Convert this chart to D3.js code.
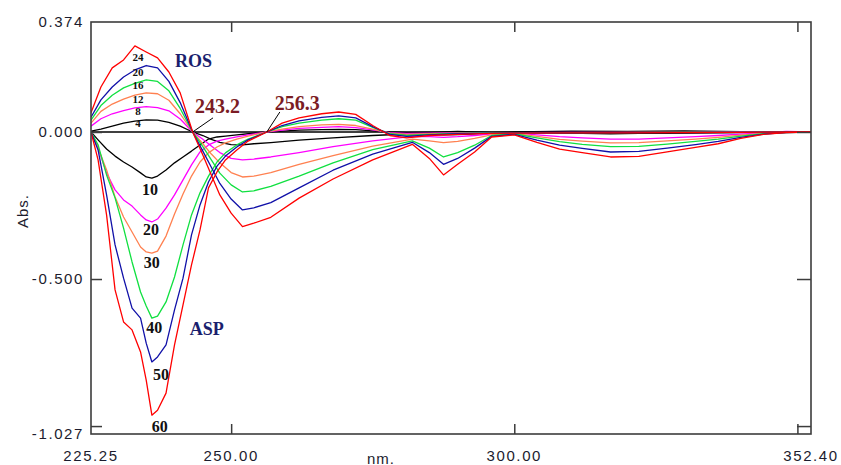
<!DOCTYPE html>
<html>
<head>
<meta charset="utf-8">
<script src="https://cdn.jsdelivr.net/npm/d3@7"></script>
<style>
        body { margin: 0; background: #fff; }
</style>
</head>
<body>
<svg id="chart" width="841" height="465" font-family="'Liberation Sans', Arial, sans-serif"></svg>
<script>
// ratio-derivative spectra, ROS (4..24) and ASP (10..60)

// ROS family, sampled wavelengths (nm)
const wlROS = [225.25, 227, 229, 231, 233, 235, 237, 239, 241, 243.2,
               245, 246.5, 248, 250, 252, 254, 257, 262, 268, 275,
               282, 285, 287.5, 290, 293, 296, 300, 304, 308, 312,
               317, 322, 327, 332, 336, 340, 344, 348, 352.4];

const ros4  = [0.003, 0.01, 0.02, 0.03, 0.037, 0.041, 0.04, 0.033, 0.02, 0,
               -0.012, -0.025, -0.035, -0.043, -0.044, -0.04, -0.036, -0.028, -0.02, -0.012,
               -0.006, -0.008, -0.01, -0.009, -0.006, -0.003, -0.002, -0.004, -0.005, -0.005,
               -0.006, -0.005, -0.005, -0.004, -0.003, -0.002, -0.001, 0, 0];
const ros8  = [0.02, 0.045, 0.062, 0.073, 0.082, 0.086, 0.083, 0.072, 0.044, 0,
               -0.025, -0.048, -0.07, -0.09, -0.095, -0.092, -0.085, -0.07, -0.05, -0.03,
               -0.015, -0.016, -0.018, -0.016, -0.012, -0.006, -0.003, -0.01, -0.016, -0.02,
               -0.024, -0.024, -0.02, -0.016, -0.012, -0.007, -0.003, 0.002, 0];
const ros12 = [0.03, 0.07, 0.095, 0.112, 0.125, 0.133, 0.13, 0.108, 0.062, 0,
               -0.04, -0.075, -0.105, -0.138, -0.153, -0.15, -0.138, -0.11, -0.08, -0.048,
               -0.024, -0.03, -0.036, -0.032, -0.022, -0.01, -0.005, -0.015, -0.025, -0.031,
               -0.037, -0.036, -0.03, -0.024, -0.018, -0.011, -0.005, -0.001, 0];
const ros16 = [0.04, 0.09, 0.125, 0.15, 0.165, 0.177, 0.172, 0.14, 0.08, 0,
               -0.05, -0.095, -0.14, -0.18, -0.204, -0.2, -0.185, -0.15, -0.105, -0.06,
               -0.03, -0.055, -0.085, -0.07, -0.045, -0.012, -0.006, -0.02, -0.033, -0.042,
               -0.05, -0.049, -0.041, -0.032, -0.024, -0.014, -0.006, -0.002, 0];
const ros20 = [0.05, 0.109, 0.153, 0.187, 0.211, 0.226, 0.218, 0.172, 0.1, 0,
               -0.065, -0.12, -0.175, -0.228, -0.265, -0.258, -0.24, -0.19, -0.13, -0.075,
               -0.035, -0.07, -0.11, -0.09, -0.055, -0.015, -0.008, -0.028, -0.045, -0.056,
               -0.068, -0.066, -0.055, -0.043, -0.032, -0.018, -0.007, -0.002, 0];
const ros24 = [0.065, 0.153, 0.218, 0.245, 0.293, 0.272, 0.252, 0.204, 0.133, 0,
               -0.078, -0.146, -0.214, -0.276, -0.322, -0.31, -0.29, -0.225, -0.16, -0.095,
               -0.042, -0.09, -0.146, -0.11, -0.068, -0.017, -0.01, -0.035, -0.058, -0.07,
               -0.085, -0.083, -0.068, -0.052, -0.04, -0.022, -0.008, -0.002, 0];

// ASP family, sampled wavelengths (nm)
const wlASP = [225.25, 226.5, 228, 229.5, 231, 232.5, 234, 235, 236, 237,
               238.5, 240, 241.5, 243, 244.5, 246, 247.5, 249, 251, 253,
               256.3, 259, 262, 266, 269, 272, 275, 278, 281, 285,
               290, 296, 300, 310, 320, 330, 340, 352.4];

const asp10 = [0, -0.027, -0.058, -0.082, -0.102, -0.119, -0.139, -0.153, -0.157, -0.15,
               -0.129, -0.105, -0.085, -0.065, -0.044, -0.024, -0.017, -0.014, -0.01, -0.006,
               0, 0.003, 0.006, 0.008, 0.009, 0.008, 0.004, 0, -0.002, -0.001,
               0.002, -0.001, 0, 0.003, 0.002, 0.004, 0.001, 0];
const asp20 = [0, -0.054, -0.14, -0.197, -0.231, -0.252, -0.282, -0.299, -0.306, -0.296,
               -0.259, -0.214, -0.163, -0.112, -0.068, -0.044, -0.031, -0.024, -0.017, -0.01,
               0, 0.006, 0.012, 0.016, 0.018, 0.015, 0.007, -0.002, -0.005, -0.004,
               -0.003, -0.002, -0.002, -0.001, -0.001, -0.001, 0, 0];
const asp30 = [0, -0.054, -0.129, -0.221, -0.289, -0.34, -0.391, -0.408, -0.412, -0.405,
               -0.354, -0.279, -0.211, -0.15, -0.102, -0.071, -0.051, -0.037, -0.024, -0.014,
               0, 0.01, 0.018, 0.024, 0.026, 0.022, 0.01, -0.004, -0.008, -0.006,
               -0.004, -0.003, -0.002, -0.002, -0.001, -0.001, -0.001, 0];
const asp40 = [0, -0.044, -0.146, -0.224, -0.327, -0.442, -0.544, -0.592, -0.633, -0.626,
               -0.578, -0.493, -0.384, -0.282, -0.207, -0.15, -0.102, -0.071, -0.044, -0.024,
               0, 0.018, 0.03, 0.04, 0.045, 0.04, 0.016, -0.006, -0.012, -0.008,
               -0.005, -0.003, -0.002, -0.002, -0.002, -0.001, -0.001, 0];
const asp50 = [0, -0.061, -0.214, -0.384, -0.497, -0.599, -0.633, -0.718, -0.782, -0.765,
               -0.724, -0.605, -0.497, -0.35, -0.248, -0.17, -0.116, -0.082, -0.051, -0.027,
               0, 0.022, 0.038, 0.05, 0.055, 0.048, 0.018, -0.008, -0.015, -0.01,
               -0.006, -0.004, -0.003, -0.003, -0.002, -0.002, -0.001, 0];
const asp60 = [0, -0.095, -0.282, -0.537, -0.646, -0.673, -0.748, -0.844, -0.963, -0.946,
               -0.888, -0.724, -0.588, -0.452, -0.333, -0.19, -0.136, -0.095, -0.061, -0.031,
               0, 0.03, 0.048, 0.062, 0.068, 0.06, 0.022, -0.012, -0.02, -0.012,
               -0.008, -0.005, -0.004, -0.003, -0.003, -0.002, -0.001, 0];

// axis ticks and labels
const xTicks = [250, 300, 350];
const yTicks = [0, -0.5, -1.0];
const xLabels = [225.25, 250, 300, 352.40];
const yLabels = [0.374, 0, -0.5, -1.027];

// concentration labels
const rosNames = ["4", "8", "12", "16", "20", "24"];
const aspNames = ["10", "20", "30", "40", "50", "60"];

const palette = ["#000000", "#ff00ff", "#ff8050", "#10e040", "#1010a8", "#ff0000"];

const svg = d3.select("#chart");
const plotL = 91, plotR = 811, plotT = 22, plotB = 434;

const x = d3.scaleLinear().domain([225.25, 352.40]).range([plotL, plotR]);
const y = d3.scaleLinear().domain([-1.027, 0.374]).range([plotB, plotT]);

svg.append("defs").append("clipPath")
        .attr("id", "plotclip")
        .append("rect")
        .attr("x", plotL).attr("y", plotT)
        .attr("width", plotR - plotL).attr("height", plotB - plotT);

const plot = svg.append("g").attr("clip-path", "url(#plotclip)");

// zero line
plot.append("line")
        .attr("x1", x(225.25)).attr("x2", x(352.40))
        .attr("y1", y(0)).attr("y2", y(0))
        .attr("stroke", "#000")
        .attr("stroke-width", 1.3);

const line = d3.line()
        .x(d => x(d[0]))
        .y(d => y(d[1]));

const rosSeries = [ros4, ros8, ros12, ros16, ros20, ros24];
const aspSeries = [asp10, asp20, asp30, asp40, asp50, asp60];

rosSeries.forEach((vals, i) => {
        const asp = aspSeries[i];
        plot.append("path")
                .datum(wlASP.map((w, k) => [w, asp[k]]))
                .attr("d", line)
                .attr("fill", "none")
                .attr("stroke", palette[i])
                .attr("stroke-width", 1.3)
                .attr("stroke-linejoin", "round");
        plot.append("path")
                .datum(wlROS.map((w, k) => [w, vals[k]]))
                .attr("d", line)
                .attr("fill", "none")
                .attr("stroke", palette[i])
                .attr("stroke-width", 1.3)
                .attr("stroke-linejoin", "round");
});

// frame
svg.append("rect")
        .attr("x", plotL).attr("y", plotT)
        .attr("width", plotR - plotL).attr("height", plotB - plotT)
        .attr("fill", "none")
        .attr("stroke", "#3c3c3c")
        .attr("stroke-width", 1.6);

// inward tick marks on all four sides
const tickStyle = g => {
        g.select(".domain").remove();
        g.selectAll(".tick line").attr("stroke", "#3c3c3c").attr("stroke-width", 1.5);
};
svg.append("g").attr("transform", `translate(0,${plotB})`)
        .call(d3.axisBottom(x).tickValues(xTicks).tickSize(-10).tickFormat(""))
        .call(tickStyle);
svg.append("g").attr("transform", `translate(0,${plotT})`)
        .call(d3.axisTop(x).tickValues(xTicks).tickSize(-10).tickFormat(""))
        .call(tickStyle);
svg.append("g").attr("transform", `translate(${plotL},0)`)
        .call(d3.axisLeft(y).tickValues(yTicks).tickSize(-11).tickFormat(""))
        .call(tickStyle);
svg.append("g").attr("transform", `translate(${plotR},0)`)
        .call(d3.axisRight(y).tickValues(yTicks).tickSize(-14).tickFormat(""))
        .call(tickStyle);

// tick labels
svg.append("g").selectAll("text")
        .data(yLabels)
        .join("text")
        .attr("x", 84)
        .attr("y", d => y(d))
        .attr("dy", "0.36em")
        .attr("text-anchor", "end")
        .attr("font-size", "15px")
        .attr("letter-spacing", "1.6px")
        .attr("fill", "#1c1c2e")
        .text(d => d.toFixed(3));

svg.append("g").selectAll("text")
        .data(xLabels)
        .join("text")
        .attr("x", d => x(d))
        .attr("y", 461)
        .attr("text-anchor", "middle")
        .attr("font-size", "15px")
        .attr("letter-spacing", "1.6px")
        .attr("fill", "#1c1c2e")
        .text(d => d.toFixed(2));

svg.append("text")
        .attr("x", 381).attr("y", 464)
        .attr("text-anchor", "middle")
        .attr("font-size", "15px")
        .attr("letter-spacing", "1px")
        .attr("fill", "#1c1c2e")
        .text("nm.");

svg.append("text")
        .attr("transform", "translate(28,211) rotate(-90)")
        .attr("text-anchor", "middle")
        .attr("font-size", "15px")
        .attr("letter-spacing", "1px")
        .attr("fill", "#1c1c2e")
        .text("Abs.");

// annotations
const serif = "'Liberation Serif', 'Times New Roman', serif";

svg.append("line")
        .attr("x1", x(246.8)).attr("y1", y(0.048))
        .attr("x2", x(243.2)).attr("y2", y(0))
        .attr("stroke", "#000").attr("stroke-width", 1);
svg.append("line")
        .attr("x1", x(258.6)).attr("y1", y(0.068))
        .attr("x2", x(256.3)).attr("y2", y(0))
        .attr("stroke", "#000").attr("stroke-width", 1);

const notes = [
        {t: "ROS",   w: 240.1, v: 0.221,  size: 18, fill: "#1a1f6e"},
        {t: "ASP",   w: 242.7, v: -0.690, size: 18, fill: "#1a1f6e"},
        {t: "243.2", w: 243.6, v: 0.065,  size: 20, fill: "#7b1c24"},
        {t: "256.3", w: 257.7, v: 0.075,  size: 20, fill: "#7b1c24"}
];
svg.append("g").selectAll("text")
        .data(notes)
        .join("text")
        .attr("x", d => x(d.w))
        .attr("y", d => y(d.v))
        .attr("font-family", serif)
        .attr("font-weight", "bold")
        .attr("font-size", d => d.size + "px")
        .attr("fill", d => d.fill)
        .text(d => d.t);

// concentration labels next to the curves
const rosAt = [[233.55, 0.017], [233.55, 0.057], [233.55, 0.099], [233.55, 0.146], [233.55, 0.19], [233.55, 0.241]];
const aspAt = [[235.67, -0.214], [235.85, -0.35], [236.0, -0.463], [236.4, -0.684], [237.6, -0.844], [237.4, -1.02]];

svg.append("g").selectAll("text")
        .data(rosNames)
        .join("text")
        .attr("x", (d, i) => x(rosAt[i][0]))
        .attr("y", (d, i) => y(rosAt[i][1]))
        .attr("text-anchor", "middle")
        .attr("font-family", serif)
        .attr("font-weight", "bold")
        .attr("font-size", "11px")
        .attr("fill", "#111")
        .text(d => d);

svg.append("g").selectAll("text")
        .data(aspNames)
        .join("text")
        .attr("x", (d, i) => x(aspAt[i][0]))
        .attr("y", (d, i) => y(aspAt[i][1]))
        .attr("text-anchor", "middle")
        .attr("font-family", serif)
        .attr("font-weight", "bold")
        .attr("font-size", "16px")
        .attr("fill", "#111")
        .text(d => d);
</script>
</body>
</html>
